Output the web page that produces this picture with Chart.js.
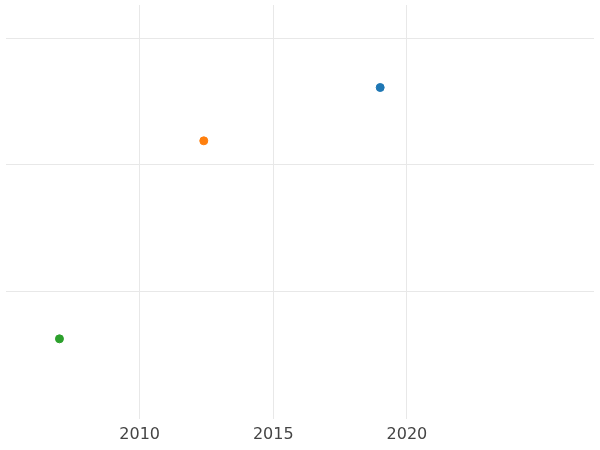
<!DOCTYPE html>
<html><head><script src="https://cdn.jsdelivr.net/npm/chart.js@4"></script>
<style>body{margin:0}#w{width:600px;height:450px}</style></head>
<body><div id="w"><canvas id="c"></canvas></div>
<script>
const xs=[2019,2012.4,2007];
const ys=[2.61,2.19,0.63];
const colors=['#1f77b4','#ff7f0e','#2ca02c'];
const edge=(ctx)=>{const t=ctx.tick;return (t&&(t.value===2005||t.value===2027||t.value===0||t.value===3.26))?'rgba(0,0,0,0)':'#e8e8e8';};
new Chart(document.getElementById('c'),{type:'scatter',
data:{datasets:xs.map((x,i)=>({data:[{x:x,y:ys[i]}],backgroundColor:colors[i],borderColor:colors[i],pointRadius:4,pointHoverRadius:4}))},
options:{responsive:true,maintainAspectRatio:false,animation:false,
plugins:{legend:{display:false},tooltip:{enabled:false}},
layout:{padding:{left:-5,right:-5,top:-5,bottom:0}},
scales:{x:{min:2005,max:2027,ticks:{stepSize:5,autoSkip:false,maxRotation:0,color:'#444',font:{family:'DejaVu Sans',size:16},padding:6,callback:v=>v%5===0&&v>=2010?String(v):''},grid:{color:edge,drawTicks:false},border:{display:false}},
y:{min:0,max:3.26,ticks:{display:false,stepSize:1},grid:{color:edge,drawTicks:false},border:{display:false}}}}});
</script></body></html>
